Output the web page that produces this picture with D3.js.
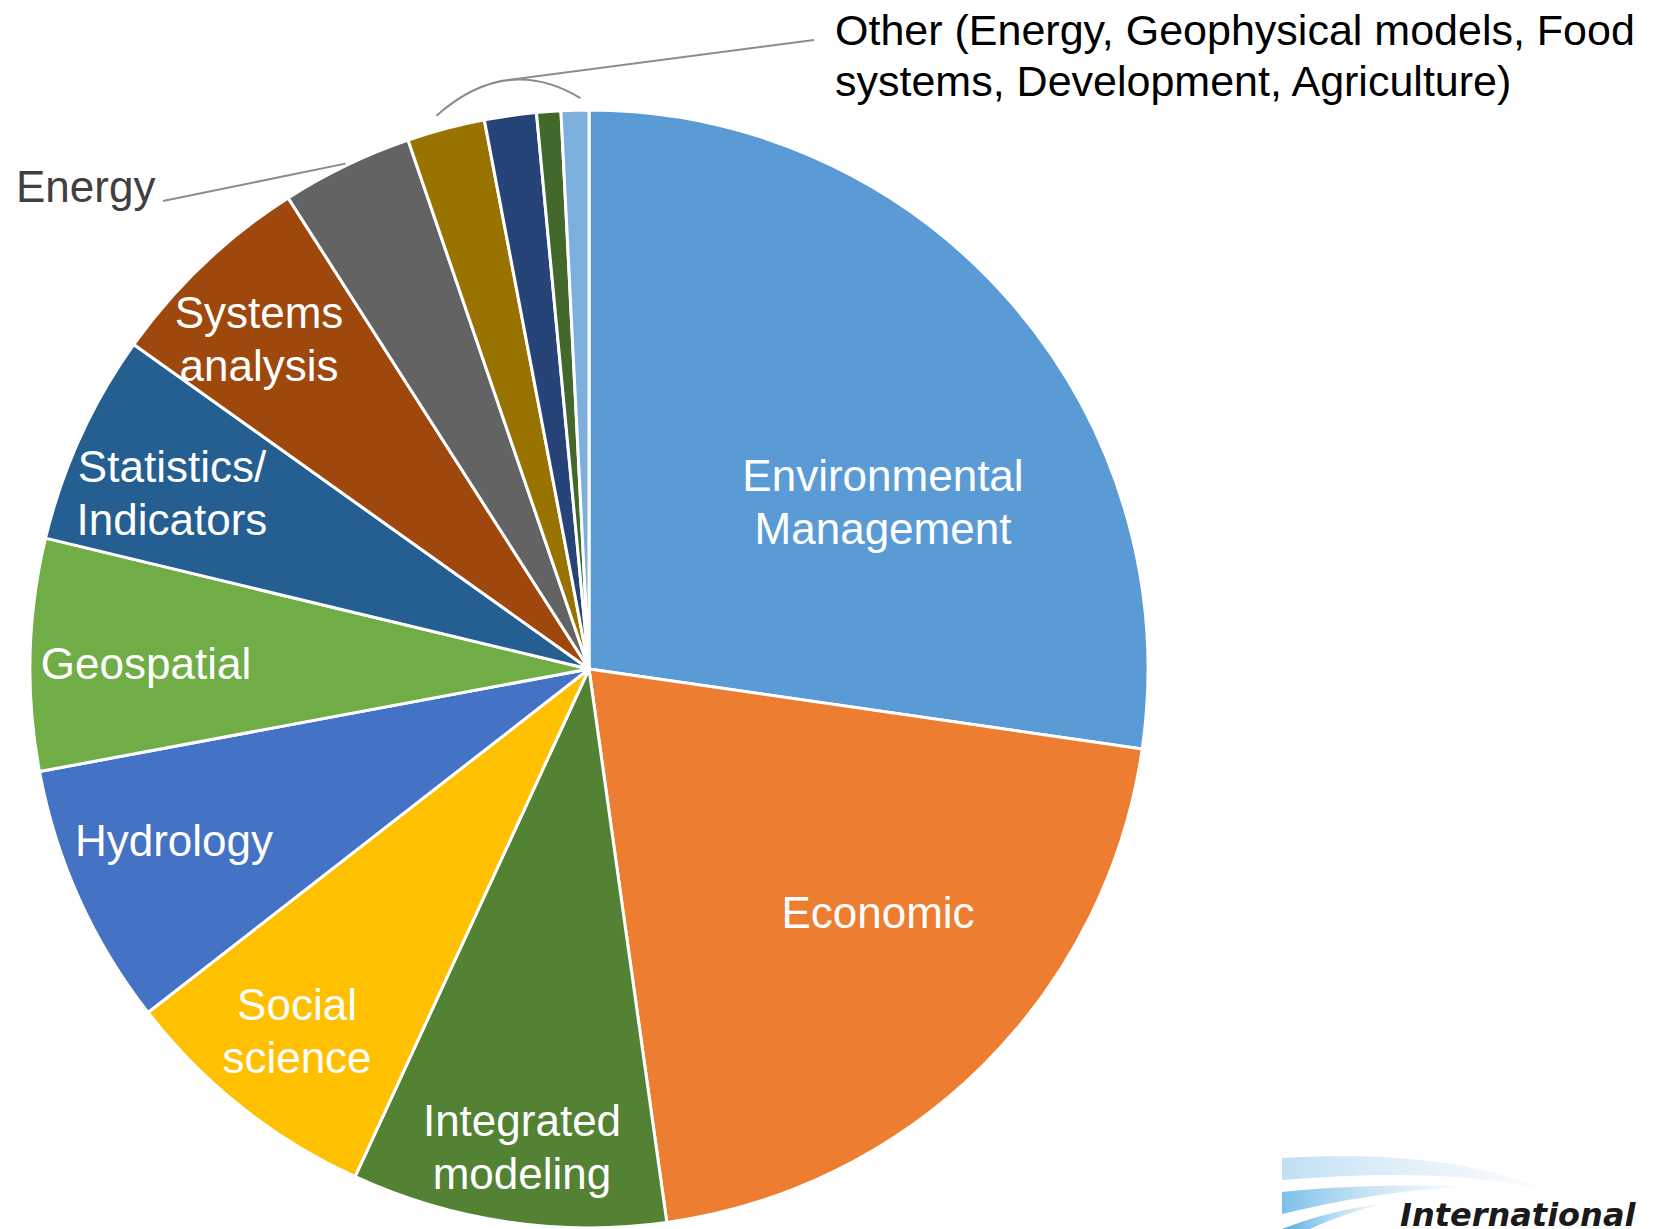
<!DOCTYPE html>
<html>
<head>
<meta charset="utf-8">
<script src="https://cdn.jsdelivr.net/npm/d3@7"></script>
<style>
  body { margin: 0; background: #fff; }
  svg { display: block; }
</style>
</head>
<body>
<div id="chart"></div>
<script>
// slice data (percent), clockwise from 12 o'clock
var categories = ["Environmental Management", "Economic", "Integrated modeling", "Social science",
                  "Hydrology", "Geospatial", "Statistics/ Indicators", "Systems analysis",
                  "Energy", "Geophysical models", "Food systems", "Development", "Agriculture"];
var values = [27.3, 20.5, 9.1, 7.6, 7.6, 6.7, 6.1, 6.1, 3.8, 2.25, 1.5, 0.7, 0.8];
var colors = ["#5b9bd5", "#ed7d31", "#548235", "#ffc000", "#4472c4", "#70ad47", "#255e91",
              "#9e480e", "#636363", "#997300", "#264478", "#43682b", "#7cafdd"];
// text shown inside slices (null = no inside label)
var sliceLabels = [["Environmental", "Management"], ["Economic"], ["Integrated", "modeling"],
                   ["Social", "science"], ["Hydrology"], ["Geospatial"], ["Statistics/", "Indicators"],
                   ["Systems", "analysis"], null, null, null, null, null];
var otherText = ["Other (Energy, Geophysical models, Food", "systems, Development, Agriculture)"];

// layout
var W = 1657, H = 1229;
var cx = 589, cy = 669, R = 559;
// label centres, chart pixels (layout only)
var labelPos = [[883, 501], [878, 912], [522, 1146], [297, 1030], [174, 840],
                [146, 663], [172, 492], [259, 338], null, null, null, null, null];
var fontSize = 44, lineH = 53;

var svg = d3.select("#chart").append("svg")
    .attr("width", W)
    .attr("height", H);

svg.append("rect").attr("width", W).attr("height", H).attr("fill", "#fff");

var pie = d3.pie().sort(null).value(function(d) { return d; });
var arcs = pie(values);
var arc = d3.arc().innerRadius(0).outerRadius(R);

var g = svg.append("g").attr("transform", "translate(" + cx + "," + cy + ")");

g.selectAll("path.slice")
    .data(arcs)
    .enter().append("path")
    .attr("class", "slice")
    .attr("d", arc)
    .attr("fill", function(d, i) { return colors[i]; })
    .attr("stroke", "#fff")
    .attr("stroke-width", 3)
    .attr("stroke-linejoin", "round");

// inside labels
arcs.forEach(function(d, i) {
    if (!sliceLabels[i]) return;
    var lines = sliceLabels[i];
    var p = labelPos[i];
    var t = svg.append("text")
        .attr("x", p[0])
        .attr("y", p[1] - (lines.length - 1) * lineH / 2)
        .attr("text-anchor", "middle")
        .attr("dominant-baseline", "central")
        .attr("fill", "#fff")
        .style("font-family", "'Liberation Sans', Arial, sans-serif")
        .style("font-size", fontSize + "px");
    lines.forEach(function(l, k) {
        t.append("tspan").attr("x", p[0]).attr("dy", k === 0 ? 0 : lineH).text(l);
    });
});

// helper: point on a polar position around the pie centre
function polar(a, r) {
    return [cx + r * Math.sin(a), cy - r * Math.cos(a)];
}
function mid(d) { return (d.startAngle + d.endAngle) / 2; }

// Energy callout
var eStart = polar(mid(arcs[8]), R + 2);
svg.append("path")
    .attr("d", "M" + eStart[0] + "," + eStart[1] + "L163,201")
    .attr("fill", "none")
    .attr("stroke", "#8c8c8c")
    .attr("stroke-width", 2);
svg.append("text")
    .attr("x", 16).attr("y", 186)
    .attr("dominant-baseline", "central")
    .attr("fill", "#404040")
    .style("font-family", "'Liberation Sans', Arial, sans-serif")
    .style("font-size", fontSize + "px")
    .text(categories[8]);

// Other bracket over the small slices
var b0 = polar(mid(arcs[9]) - 0.01, R + 15);
var b1 = polar(mid(arcs[12]) + 0.01, R + 12);
var bm = polar((mid(arcs[9]) + mid(arcs[12])) / 2 + 0.01, R + 62);
var peak = [0.25 * b0[0] + 0.5 * bm[0] + 0.25 * b1[0], 0.25 * b0[1] + 0.5 * bm[1] + 0.25 * b1[1]];
svg.append("path")
    .attr("d", "M" + b0 + "Q" + bm + " " + b1)
    .attr("fill", "none")
    .attr("stroke", "#8c8c8c")
    .attr("stroke-width", 2);
svg.append("path")
    .attr("d", "M" + peak + "L814,40")
    .attr("fill", "none")
    .attr("stroke", "#8c8c8c")
    .attr("stroke-width", 2);
var ot = svg.append("text")
    .attr("x", 835).attr("y", 30)
    .attr("dominant-baseline", "central")
    .attr("fill", "#000")
    .style("font-family", "'Liberation Sans', Arial, sans-serif")
    .style("font-size", "43px");
otherText.forEach(function(l, k) {
    ot.append("tspan").attr("x", 835).attr("dy", k === 0 ? 0 : 51).text(l);
});

// logo in the corner (partly cut off, as in the source)
var defs = svg.append("defs");
function grad(id, c0, c1) {
    var lg = defs.append("linearGradient").attr("id", id)
        .attr("x1", "0%").attr("x2", "100%").attr("y1", "0%").attr("y2", "0%");
    lg.append("stop").attr("offset", "0%").attr("stop-color", c0).attr("stop-opacity", 0.9);
    lg.append("stop").attr("offset", "100%").attr("stop-color", c1).attr("stop-opacity", 0.15);
}
grad("sw1", "#b9dcf3", "#dbeaf5");
grad("sw2", "#6fb8e8", "#bfe0f5");
grad("sw3", "#3ba2e0", "#9fd0f0");
var logo = svg.append("g");
logo.append("path")
    .attr("d", "M1282,1158 C1380,1152 1480,1160 1545,1190 C1470,1172 1380,1172 1282,1180 Z")
    .attr("fill", "url(#sw1)");
logo.append("path")
    .attr("d", "M1282,1192 C1340,1186 1410,1184 1460,1187 C1400,1190 1340,1200 1282,1214 Z")
    .attr("fill", "url(#sw2)");
logo.append("path")
    .attr("d", "M1282,1229 C1310,1218 1345,1208 1382,1204 C1350,1212 1325,1222 1310,1229 Z")
    .attr("fill", "url(#sw3)");
logo.append("text")
    .attr("x", 1400).attr("y", 1226)
    .attr("fill", "#1a1a1a")
    .style("font-family", "'DejaVu Sans', sans-serif")
    .style("font-weight", "bold")
    .style("font-style", "italic")
    .style("font-size", "32px")
    .text("International");
</script>
</body>
</html>
